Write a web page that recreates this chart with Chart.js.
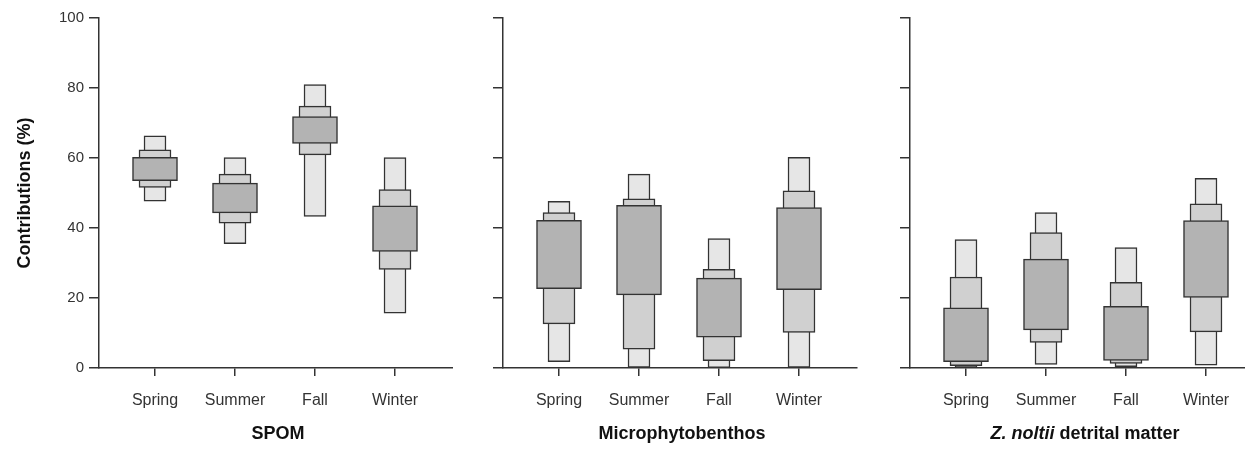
<!DOCTYPE html>
<html>
<head>
<meta charset="utf-8">
<script src="https://cdn.jsdelivr.net/npm/chart.js@4"></script>
<style>
  body { margin: 0; background: #fff; width: 1245px; height: 451px; overflow: hidden; position: relative; font-family: 'Liberation Sans', Arial, sans-serif; }
  .panel { position: absolute; top: 0; height: 451px; }
  .xtitle { position: absolute; top: 433px; transform: translate(-50%, -50%); font-weight: bold; font-size: 18px; color: #111; white-space: nowrap; }
</style>
</head>
<body>
<div class="panel" style="left:0;width:453px"><canvas id="p1"></canvas></div>
<div class="panel" style="left:455px;width:405px"><canvas id="p2"></canvas></div>
<div class="panel" style="left:860px;width:385px"><canvas id="p3"></canvas></div>
<div class="xtitle" style="left:278px">SPOM</div>
<div class="xtitle" style="left:682px">Microphytobenthos</div>
<div class="xtitle" style="left:1085px"><i>Z. noltii</i> detrital matter</div>

<script>
const seasons = ['Spring', 'Summer', 'Fall', 'Winter'];
const yTicks = [0, 20, 40, 60, 80, 100];

// credible intervals [low, high] in %, per season
const spom95 = [[47.7, 66.3], [35.5, 60.1], [43.3, 81.0], [15.7, 60.1]];
const spom75 = [[51.6, 62.3], [41.4, 55.4], [60.9, 74.8], [28.2, 51.0]];
const spom50 = [[53.5, 60.2], [44.3, 52.8], [64.2, 71.8], [33.3, 46.3]];

const mpb95 = [[1.8, 47.6], [0.2, 55.4], [0.1, 37.0], [0.2, 60.2]];
const mpb75 = [[12.6, 44.4], [5.4, 48.3], [2.1, 28.2], [10.2, 50.6]];
const mpb50 = [[22.7, 42.2], [20.9, 46.5], [8.8, 25.7], [22.4, 45.8]];

const zos95 = [[0.2, 36.7], [1.0, 44.4], [0.4, 34.4], [0.8, 54.2]];
const zos75 = [[0.7, 26.0], [7.3, 38.7], [1.3, 24.5], [10.3, 46.9]];
const zos50 = [[1.8, 17.2], [10.9, 31.1], [2.2, 17.6], [20.2, 42.1]];

const FONT = "'Liberation Sans', Arial, sans-serif";
const AXIS = '#333';

function toPoints(ci) {
  return ci.map((r, i) => ({ x: i + 1, y: r }));
}

function makePanel(id, ci95, ci75, ci50, opts) {
  const ds = (data, color, thick, order) => ({
    data: toPoints(data),
    backgroundColor: color,
    borderColor: AXIS,
    borderWidth: 1.5,
    borderSkipped: false,
    barThickness: thick,
    grouped: false,
    order: order
  });

  new Chart(document.getElementById(id), {
    type: 'bar',
    data: {
      datasets: [
        ds(ci95, '#e6e6e6', 22, 3),
        ds(ci75, '#d0d0d0', 32, 2),
        ds(ci50, '#b3b3b3', 45, 1)
      ]
    },
    options: {
      responsive: true,
      maintainAspectRatio: false,
      animation: false,
      layout: { padding: { top: 18, right: opts.padRight, left: 0, bottom: 0 } },
      plugins: { legend: { display: false }, tooltip: { enabled: false } },
      scales: {
        x: {
          type: 'linear',
          offset: false,
          min: 0.3,
          max: opts.xMax,
          afterBuildTicks: s => { s.ticks = seasons.map((_, i) => ({ value: i + 1 })); },
          afterFit: s => { s.height = 83; },
          ticks: {
            callback: v => seasons[v - 1],
            color: '#333',
            font: { family: FONT, size: 16 },
            padding: 15,
            maxRotation: 0
          },
          grid: { offset: false, drawOnChartArea: false, drawTicks: true, tickLength: 8, color: AXIS, lineWidth: 1.5 },
          border: { color: AXIS, width: 1.5 }
        },
        y: {
          min: 0,
          max: 100,
          afterBuildTicks: s => { s.ticks = yTicks.map(v => ({ value: v })); },
          afterFit: s => { s.width = opts.yWidth; },
          ticks: {
            display: opts.showY,
            color: '#333',
            font: { family: FONT, size: 15 },
            padding: 5
          },
          grid: { drawOnChartArea: false, drawTicks: true, tickLength: 10, color: AXIS, lineWidth: 1.5 },
          border: { color: AXIS, width: 1.5 },
          title: {
            display: opts.showY,
            text: 'Contributions (%)',
            color: '#111',
            font: { family: FONT, size: 18, weight: 'bold' },
            padding: { top: 14, bottom: 0 }
          }
        }
      }
    }
  });
}

makePanel('p1', spom95, spom75, spom50, { yWidth: 99, padRight: 0, xMax: 4.725, showY: true });
makePanel('p2', mpb95, mpb75, mpb50, { yWidth: 48, padRight: 3, xMax: 4.725, showY: false });
makePanel('p3', zos95, zos75, zos50, { yWidth: 50, padRight: 0, xMax: 4.4875, showY: false });
</script>
</body>
</html>
